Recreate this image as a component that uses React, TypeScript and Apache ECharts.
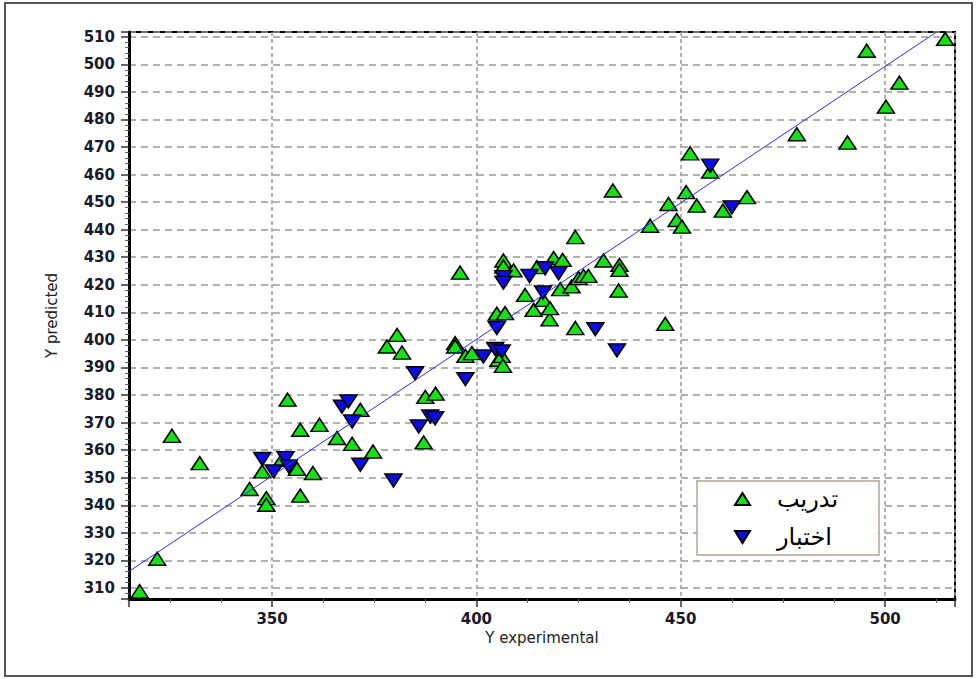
import React, { useEffect, useRef } from "react";
import * as echarts from "echarts";

const trainName = "تدريب";
const testName = "اختبار";

const trainData: number[][] = [
  [317.6, 308.8], [321.9, 320.6], [325.5, 365.2], [332.3, 355.3], [344.5, 345.9],
  [347.6, 352.3], [348.6, 342.6], [348.6, 340.2], [352.4, 356.5], [353.8, 378.3],
  [356.1, 353.2], [356.9, 343.5], [356.9, 367.4], [360.0, 351.7], [361.6, 369.2],
  [365.9, 364.4], [369.6, 362.3], [371.6, 374.6], [374.7, 359.5], [378.1, 397.6],
  [380.6, 401.8], [381.8, 395.4], [387.1, 362.8], [387.5, 379.3], [390.0, 380.5],
  [394.8, 398.8], [394.8, 397.6], [396.0, 424.4], [397.3, 394.2], [398.9, 395.2],
  [405.0, 409.5], [405.4, 392.8], [406.2, 394.2], [406.5, 390.6], [406.6, 428.8],
  [406.6, 426.6], [407.0, 409.7], [409.1, 425.2], [411.9, 416.3], [414.0, 410.9],
  [414.8, 426.4], [416.4, 414.5], [417.9, 407.5], [418.0, 411.5], [418.9, 429.7],
  [420.5, 418.4], [421.1, 429.0], [423.3, 419.4], [424.2, 437.3], [424.2, 404.3],
  [425.0, 422.4], [426.2, 423.2], [427.4, 423.2], [431.1, 428.8], [433.4, 454.2],
  [434.8, 417.9], [435.0, 427.2], [435.0, 425.4], [442.5, 441.4], [446.2, 405.8],
  [447.0, 449.3], [449.0, 443.5], [450.3, 441.1], [451.3, 453.6], [452.3, 467.7],
  [453.9, 448.7], [457.2, 461.1], [460.3, 446.9], [466.2, 451.8], [478.4, 474.6],
  [490.8, 471.6], [495.5, 504.9], [500.2, 484.6], [503.5, 493.3], [514.7, 509.2],
];

const testData: number[][] = [
  [347.6, 356.8], [350.4, 352.3], [353.3, 357.1], [354.1, 354.1], [367.1, 375.8],
  [368.7, 377.7], [369.6, 370.4], [371.6, 354.7], [379.7, 349.0], [385.9, 368.6],
  [385.0, 387.9], [388.7, 372.2], [389.9, 371.6], [397.3, 385.8], [401.7, 394.0],
  [404.6, 396.7], [406.2, 395.8], [405.0, 404.3], [406.6, 422.8], [406.6, 420.8],
  [413.0, 423.2], [416.8, 426.0], [420.1, 424.2], [416.3, 417.2], [429.1, 403.9],
  [434.4, 396.2], [457.2, 463.2], [462.5, 448.1],
];

const fitLine: number[][] = [
  [315, 316.0],
  [512.6, 511.7],
];

const xRange = [315, 517.1];
const yRange = [306, 511.7];

export default function App() {
  const ref = useRef<HTMLDivElement>(null);
  useEffect(() => {
    if (!ref.current) return;
    const chart = echarts.init(ref.current, null, { renderer: "svg" });
    const labelStyle = {
      color: "#1a1a2a",
      fontFamily: "DejaVu Sans",
      fontSize: 15,
      fontWeight: "bold" as const,
    };
    chart.setOption({
      animation: false,
      backgroundColor: "#fff",
      grid: {
        left: 129,
        top: 32,
        right: 21,
        bottom: 80,
        show: true,
        borderColor: "#000",
        borderWidth: 2,
        backgroundColor: "transparent",
      },
      graphic: [
        {
          type: "rect",
          shape: { x: 5, y: 3, width: 967, height: 673 },
          style: { fill: "none", stroke: "#555", lineWidth: 2 },
          silent: true,
        },
      ],
      legend: {
        orient: "vertical",
        left: 697,
        top: 481,
        padding: [5, 14, 5, 37],
        itemGap: 12,
        itemWidth: 15,
        itemHeight: 12,
        backgroundColor: "#fff",
        borderColor: "#b4a494",
        borderWidth: 1.5,
        borderRadius: 0,
        textStyle: {
          fontFamily: "DejaVu Sans",
          fontSize: 24,
          color: "#000",
          padding: [0, 0, 0, 22],
          lineHeight: 26,
          width: 88,
        },
        data: [
          { name: trainName, icon: "triangle" },
          { name: testName, icon: "path://M0,0 L10,0 L5,8 Z" },
        ],
      },
      xAxis: {
        type: "value",
        min: xRange[0],
        max: xRange[1],
        splitNumber: 4,
        name: "Y experimental",
        nameLocation: "middle",
        nameGap: 30,
        nameTextStyle: { color: "#222", fontFamily: "DejaVu Sans", fontSize: 15 },
        axisLine: { show: true, onZero: false, lineStyle: { color: "#000", width: 3 } },
        axisTick: { show: true, inside: false, length: 8, lineStyle: { color: "#333", width: 1.5 } },
        minorTick: { show: true, splitNumber: 4, length: 4, lineStyle: { color: "#666", width: 1 } },
        axisLabel: {
          ...labelStyle,
          margin: 12,
          formatter: (v: number) => (Math.abs(v % 50) < 1e-6 ? String(v) : ""),
        },
        splitLine: { show: true, lineStyle: { color: "#999", width: 1.5, type: [4, 3] } },
      },
      yAxis: {
        type: "value",
        min: yRange[0],
        max: yRange[1],
        splitNumber: 20,
        name: "Y predicted",
        nameLocation: "middle",
        nameGap: 70,
        nameTextStyle: { color: "#222", fontFamily: "DejaVu Sans", fontSize: 15 },
        axisLine: { show: true, onZero: false, lineStyle: { color: "#000", width: 3 } },
        axisTick: { show: true, inside: false, length: 8, lineStyle: { color: "#333", width: 1.5 } },
        minorTick: { show: true, splitNumber: 5, length: 4, lineStyle: { color: "#666", width: 1 } },
        axisLabel: {
          ...labelStyle,
          margin: 14,
          formatter: (v: number) => (Math.abs(v % 10) < 1e-6 ? String(v) : ""),
        },
        splitLine: { show: true, lineStyle: { color: "#999", width: 1.5, type: [7, 5] } },
      },
      series: [
        {
          name: trainName,
          type: "scatter",
          data: trainData,
          symbol: "triangle",
          symbolSize: [17, 13],
          itemStyle: { color: "#16e016", borderColor: "#000", borderWidth: 1.5, opacity: 1 },
          z: 2,
        },
        {
          name: testName,
          type: "scatter",
          data: testData,
          symbol: "triangle",
          symbolRotate: 180,
          symbolSize: [17, 13],
          itemStyle: { color: "#0c0ce0", borderColor: "#000", borderWidth: 1.5, opacity: 1 },
          z: 3,
        },
        {
          name: "fit",
          type: "line",
          data: fitLine,
          symbol: "none",
          lineStyle: { color: "#2a2aff", width: 1 },
          z: 4,
          silent: true,
        },
      ],
    });
    return () => chart.dispose();
  }, []);
  return (
    <div
      ref={ref}
      style={{ position: "absolute", left: 0, top: 0, width: 976, height: 679 }}
    />
  );
}
